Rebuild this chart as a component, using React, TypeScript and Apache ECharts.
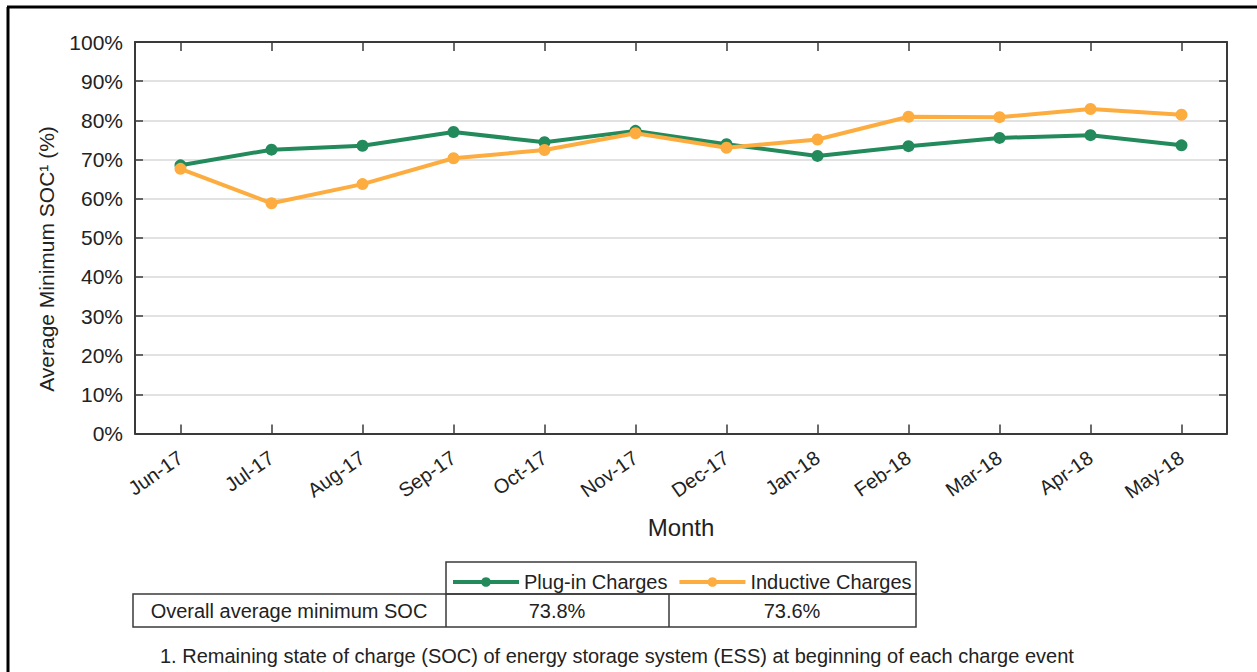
import React, { useEffect, useRef } from "react";
import * as echarts from "echarts";

const months = ["Jun-17", "Jul-17", "Aug-17", "Sep-17", "Oct-17", "Nov-17", "Dec-17", "Jan-18", "Feb-18", "Mar-18", "Apr-18", "May-18"];
const plugIn = [68.5, 72.5, 73.5, 77.0, 74.4, 77.3, 73.9, 70.9, 73.4, 75.5, 76.2, 73.6];
const inductive = [67.6, 58.8, 63.7, 70.3, 72.4, 76.7, 73.0, 75.1, 80.9, 80.8, 82.9, 81.4];
const seriesNames = ["Plug-in Charges", "Inductive Charges"];
const tableLabel = "Overall average minimum SOC";
const overallAverages = ["73.8%", "73.6%"];
const yTitle = "Average Minimum SOC\u00B9 (%)";
const xTitle = "Month";
const footnote = "1. Remaining state of charge (SOC) of energy storage system (ESS) at beginning of each charge event";

const FONT = "'Liberation Sans', Arial, sans-serif";
const GREEN = "#238a5c";
const ORANGE = "#fdad40";
const AXIS = "#3a3a3a";
const TXT = "#222";

export default function App() {
  const ref = useRef<HTMLDivElement>(null);
  useEffect(() => {
    if (!ref.current) return;
    const chart = echarts.init(ref.current, null, { renderer: "svg" });
    const border = { stroke: AXIS, lineWidth: 1.5, fill: "transparent" };
    const axisLine = { show: true, onZero: false, lineStyle: { color: AXIS, width: 2 } };
    const tick = { show: true, inside: true, length: 9, lineStyle: { color: AXIS, width: 1.5 } };
    chart.setOption({
      animation: false,
      backgroundColor: "#fff",
      textStyle: { fontFamily: FONT },
      grid: { left: 135, right: 30, top: 42, bottom: 238.5 },
      legend: {
        left: 446,
        top: 567,
        itemWidth: 66,
        itemHeight: 12,
        itemGap: 10,
        lineStyle: { width: 4 },
        textStyle: { fontFamily: FONT, fontSize: 20, color: TXT },
        data: seriesNames,
      },
      xAxis: [
        {
          type: "category",
          data: months,
          boundaryGap: true,
          axisLine,
          axisTick: { ...tick, alignWithLabel: true },
          axisLabel: { rotate: 35, fontSize: 20, color: TXT, fontFamily: FONT, margin: 22 },
          name: xTitle,
          nameLocation: "middle",
          nameGap: 82,
          nameTextStyle: { fontSize: 24, color: TXT, fontFamily: FONT, verticalAlign: "top" },
        },
        {
          type: "category",
          data: months,
          position: "top",
          boundaryGap: true,
          axisLine,
          axisTick: { ...tick, alignWithLabel: true },
          axisLabel: { show: false },
        },
      ],
      yAxis: [
        {
          type: "value",
          min: 0,
          max: 100,
          interval: 10,
          axisLine,
          axisTick: { ...tick, length: 8 },
          axisLabel: { formatter: "{value}%", fontSize: 21, color: TXT, fontFamily: FONT, margin: 12 },
          splitLine: { show: true, lineStyle: { color: "#d9d9d9", width: 1.5 } },
        },
        {
          type: "value",
          min: 0,
          max: 100,
          interval: 10,
          position: "right",
          axisLine,
          axisTick: { ...tick, length: 8 },
          axisLabel: { show: false },
          splitLine: { show: false },
        },
      ],
      series: [
        {
          name: seriesNames[0],
          type: "line",
          data: plugIn,
          color: GREEN,
          symbol: "circle",
          symbolSize: 12,
          lineStyle: { width: 4, color: GREEN },
          itemStyle: { color: GREEN },
          z: 3,
        },
        {
          name: seriesNames[1],
          type: "line",
          data: inductive,
          color: ORANGE,
          symbol: "circle",
          symbolSize: 12,
          lineStyle: { width: 4, color: ORANGE },
          itemStyle: { color: ORANGE },
          z: 4,
        },
      ],
      graphic: [
        { type: "line", shape: { x1: 8, y1: 7, x2: 8, y2: 672 }, style: { stroke: "#000", lineWidth: 3 } },
        { type: "line", shape: { x1: 7, y1: 7, x2: 1257, y2: 7 }, style: { stroke: "#000", lineWidth: 3 } },
        {
          type: "text",
          x: 46,
          y: 259,
          rotation: Math.PI / 2,
          style: { text: yTitle, fontSize: 21, fontFamily: FONT, fill: TXT, align: "center", verticalAlign: "middle" },
        },
        { type: "rect", shape: { x: 446, y: 562, width: 470, height: 32 }, style: border },
        { type: "rect", shape: { x: 133, y: 594, width: 783, height: 33 }, style: border },
        { type: "line", shape: { x1: 446, y1: 594, x2: 446, y2: 627 }, style: { stroke: AXIS, lineWidth: 1.5 } },
        { type: "line", shape: { x1: 669, y1: 594, x2: 669, y2: 627 }, style: { stroke: AXIS, lineWidth: 1.5 } },
        { type: "text", x: 289, y: 611, style: { text: tableLabel, fontSize: 20, fontFamily: FONT, fill: TXT, align: "center", verticalAlign: "middle" } },
        { type: "text", x: 557, y: 611, style: { text: overallAverages[0], fontSize: 20, fontFamily: FONT, fill: TXT, align: "center", verticalAlign: "middle" } },
        { type: "text", x: 792, y: 611, style: { text: overallAverages[1], fontSize: 20, fontFamily: FONT, fill: TXT, align: "center", verticalAlign: "middle" } },
        { type: "text", x: 160, y: 656, style: { text: footnote, fontSize: 20, fontFamily: FONT, fill: TXT, align: "left", verticalAlign: "middle" } },
      ],
    });
    return () => chart.dispose();
  }, []);
  return <div ref={ref} style={{ position: "fixed", left: 0, top: 0, width: 1257, height: 672 }} />;
}
